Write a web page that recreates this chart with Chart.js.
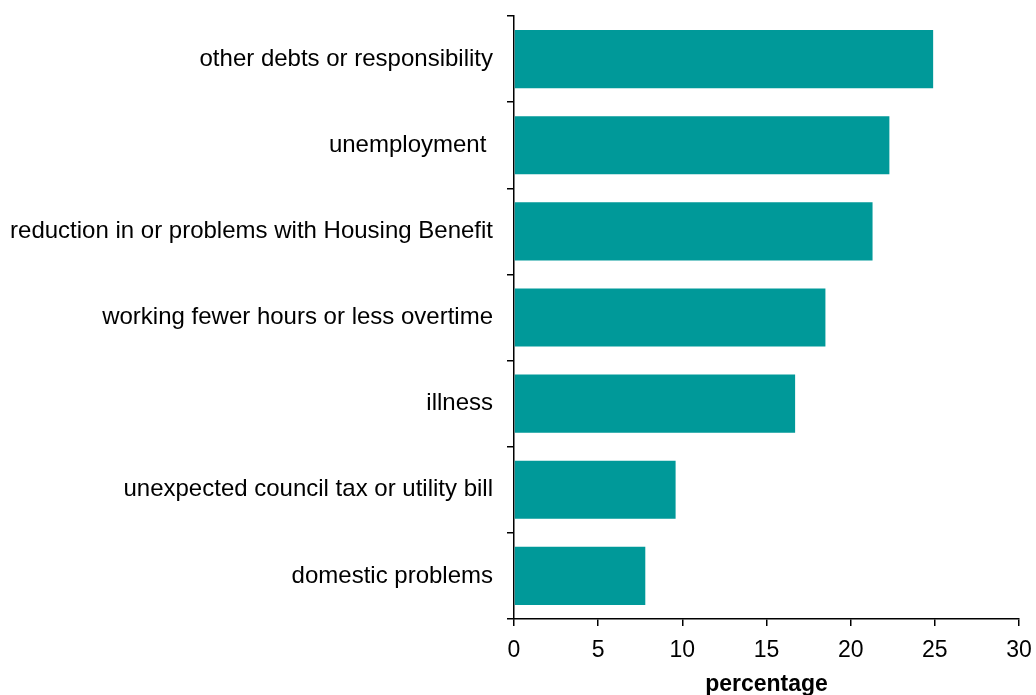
<!DOCTYPE html>
<html>
<head>
<meta charset="utf-8">
<script src="https://cdn.jsdelivr.net/npm/chart.js@4/dist/chart.umd.min.js"></script>
<style>
  html, body { margin: 0; padding: 0; background: #fff; }
  #wrap { width: 1036px; height: 695px; }
</style>
</head>
<body>
<div id="wrap"><canvas id="chart"></canvas></div>
<script>
const categories = [
    "other debts or responsibility",
    "unemployment ",
    "reduction in or problems with Housing Benefit",
    "working fewer hours or less overtime",
    "illness",
    "unexpected council tax or utility bill",
    "domestic problems"
];
const percentages = [24.9, 22.3, 21.3, 18.5, 16.7, 9.6, 7.8];
const xTicks = [0, 5, 10, 15, 20, 25, 30];

const FONT = "'Liberation Sans', Arial, sans-serif";

new Chart(document.getElementById("chart"), {
    type: "bar",
    data: {
        labels: categories,
        datasets: [{
            data: percentages,
            backgroundColor: "#009999",
            borderWidth: 0,
            categoryPercentage: 0.675,
            barPercentage: 1
        }]
    },
    options: {
        indexAxis: "y",
        responsive: true,
        maintainAspectRatio: false,
        animation: false,
        layout: { padding: { top: 16, right: 17, left: 0, bottom: 0 } },
        plugins: { legend: { display: false }, tooltip: { enabled: false } },
        scales: {
            x: {
                min: xTicks[0],
                max: xTicks[xTicks.length - 1],
                afterBuildTicks: (s) => { s.ticks = xTicks.map(v => ({ value: v })); },
                afterFit: (s) => { s.height = 76; s.paddingLeft = 0; s.paddingRight = 0; },
                grid: { drawOnChartArea: false, drawTicks: true, tickLength: 7, color: "#000", lineWidth: 1.5 },
                border: { display: true, color: "#000", width: 1.5 },
                ticks: { color: "#000", font: { family: FONT, size: 23 }, padding: 11, maxRotation: 0 },
                title: {
                    display: true,
                    text: "percentage",
                    color: "#000",
                    font: { family: FONT, size: 23, weight: "bold", lineHeight: 1 },
                    padding: { top: 0, bottom: -1 }
                }
            },
            y: {
                afterFit: (s) => { s.width = 514; s.paddingTop = 0; s.paddingBottom = 0; },
                grid: { drawOnChartArea: false, drawTicks: true, tickLength: 7, color: "#000", lineWidth: 1.5, offset: true },
                border: { display: true, color: "#000", width: 1.5 },
                ticks: { color: "#000", font: { family: FONT, size: 24 }, padding: 14, autoSkip: false }
            }
        }
    }
});
</script>
</body>
</html>
